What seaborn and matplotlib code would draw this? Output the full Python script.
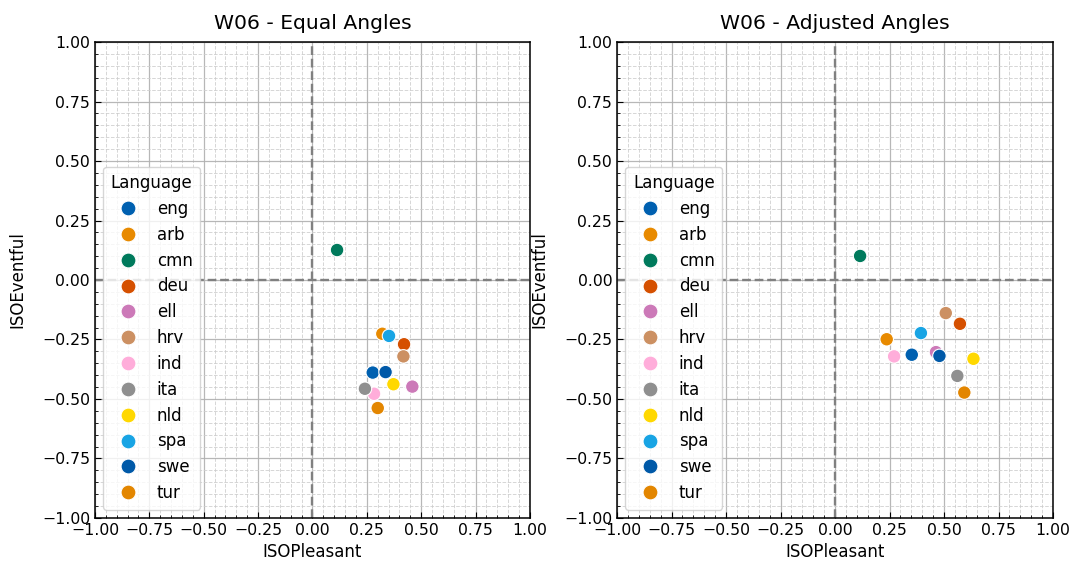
import pandas as pd
import numpy as np
import seaborn as sns
import matplotlib.pyplot as plt

from matplotlib.ticker import MultipleLocator

# =============================================================================
# Data
# =============================================================================

languages = ["eng", "arb", "cmn", "deu", "ell", "hrv", "ind", "ita", "nld", "spa", "swe", "tur"]

equal_pleasant = [0.277, 0.321, 0.113, 0.421, 0.459, 0.418, 0.283, 0.241, 0.372, 0.352, 0.336, 0.300]
equal_eventful = [-0.389, -0.226, 0.126, -0.270, -0.448, -0.321, -0.478, -0.457, -0.438, -0.235, -0.387, -0.538]

adj_pleasant = [0.352, 0.237, 0.115, 0.573, 0.463, 0.508, 0.271, 0.561, 0.635, 0.394, 0.479, 0.593]
adj_eventful = [-0.314, -0.249, 0.101, -0.184, -0.303, -0.139, -0.321, -0.403, -0.331, -0.223, -0.319, -0.473]

site = "W06"

lang_colors = ["#0060B0", "#E88A00", "#007A5C", "#D55000", "#CC79B8", "#CC9062",
               "#FFADDA", "#8F8F8F", "#FFD800", "#18A4E4", "#0059A8", "#E38600"]

df_equal = pd.DataFrame({"Language": languages, "ISOPleasant": equal_pleasant, "ISOEventful": equal_eventful})
df_adj = pd.DataFrame({"Language": languages, "ISOPleasant": adj_pleasant, "ISOEventful": adj_eventful})

palette = dict(zip(languages, lang_colors))

# =============================================================================
# Plot
# =============================================================================

def format_axis(ax):
    ax.set_xlim(-1, 1)
    ax.set_ylim(-1, 1)
    ax.xaxis.set_major_locator(MultipleLocator(0.25))
    ax.yaxis.set_major_locator(MultipleLocator(0.25))
    ax.xaxis.set_minor_locator(MultipleLocator(0.05))
    ax.yaxis.set_minor_locator(MultipleLocator(0.05))
    ax.tick_params(which="both", direction="in", labelsize=11.3)
    ax.tick_params(which="major", length=4.5)
    ax.tick_params(which="minor", length=2.5)
    ax.grid(which="major", color="#b0b0b0", linewidth=0.9, alpha=0.9)
    ax.grid(which="minor", color="#cccccc", linestyle="--", linewidth=0.7, alpha=0.8)
    ax.set_axisbelow(True)
    ax.axhline(0, color="grey", linestyle="--", linewidth=1.7, zorder=1)
    ax.axvline(0, color="grey", linestyle="--", linewidth=1.7, zorder=1)
    for spine in ax.spines.values():
        spine.set_color("black")
        spine.set_linewidth(1.1)


fig = plt.figure(figsize=(10.72, 5.64), dpi=100)
ax1 = fig.add_axes([0.0886, 0.0816, 0.4058, 0.8439])
ax2 = fig.add_axes([0.5756, 0.0816, 0.4067, 0.8439])

for ax, data, title in [(ax1, df_equal, "Equal Angles"), (ax2, df_adj, "Adjusted Angles")]:
    format_axis(ax)
    sns.scatterplot(
        data=data,
        x="ISOPleasant",
        y="ISOEventful",
        hue="Language",
        hue_order=languages,
        palette=palette,
        s=95,
        edgecolor="white",
        linewidth=0.8,
        zorder=3,
        ax=ax
    )
    ax.set_title(f"{site} - {title}", fontsize=14.6, pad=9.5)
    ax.set_xlabel("ISOPleasant", fontsize=12)
    ax.set_ylabel("ISOEventful", fontsize=12, labelpad=11)
    leg = ax.legend(title="Language", loc="lower left", labelspacing=0.47,
                    handletextpad=0.75, borderpad=0.45, markerscale=1.1,
                    fontsize=12, title_fontsize=12)

fig.savefig("out.png", dpi=100)
